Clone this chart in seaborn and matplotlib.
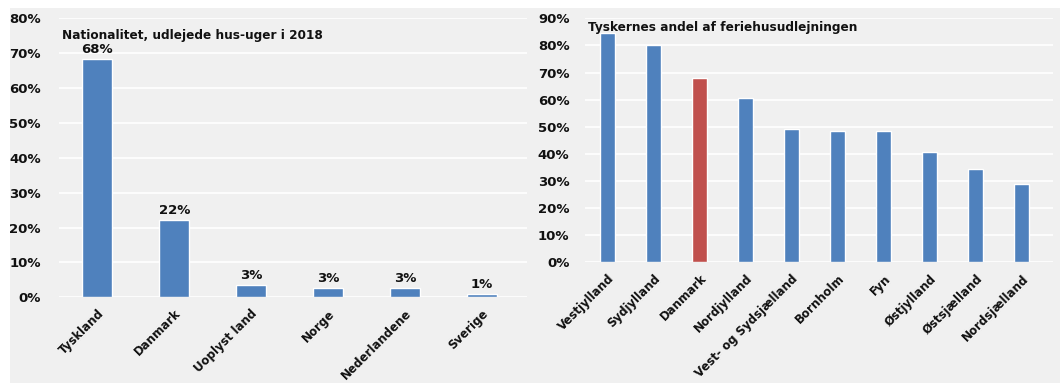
import matplotlib
matplotlib.use("Agg")
import matplotlib.pyplot as plt
import seaborn as sns
import pandas as pd
from matplotlib.patches import Rectangle
from matplotlib.ticker import PercentFormatter

# venstre figur
nationer = ["Tyskland", "Danmark", "Uoplyst land", "Norge", "Nederlandene", "Sverige"]
andel_nation = [68.2, 22.1, 3.4, 2.7, 2.6, 1.0]
labels_nation = ["68%", "22%", "3%", "3%", "3%", "1%"]

# højre figur
omraader = ["Vestjylland", "Sydjylland", "Danmark", "Nordjylland", "Vest- og Sydsjælland",
            "Bornholm", "Fyn", "Østjylland", "Østsjælland", "Nordsjælland"]
andel_tysk = [84.5, 80.0, 67.9, 60.5, 49.0, 48.5, 48.3, 40.7, 34.5, 28.8]

blaa = "#4F81BD"
roed = "#C0504D"
bg = "#F0F0F0"
tekst = "#111111"

sns.set_theme(style="white")
plt.rcParams["font.family"] = ["DejaVu Sans"]
plt.rcParams["font.weight"] = "bold"

W, H = 1062, 383
fig = plt.figure(figsize=(W / 100, H / 100), dpi=100)
fig.patches.append(Rectangle((10 / W, 0), 1050 / W, (H - 8) / H, transform=fig.transFigure,
                             facecolor=bg, edgecolor="none", zorder=-10))

ax1 = fig.add_axes([58.9 / W, (H - 297.3) / H, (527 - 58.9) / W, (297.3 - 18.3) / H])
ax2 = fig.add_axes([584.7 / W, (H - 262.3) / H, (1053 - 584.7) / W, (262.3 - 18.3) / H])

df1 = pd.DataFrame({"land": nationer, "andel": andel_nation})
sns.barplot(data=df1, x="land", y="andel", color=blaa, width=0.39, saturation=1, ax=ax1, zorder=3)
for i, (v, lab) in enumerate(zip(andel_nation, labels_nation)):
    ax1.text(i, v + 0.9, lab, ha="center", va="bottom", fontsize=9.5, fontweight="bold", color=tekst)
ax1.set_ylim(0, 80)
ax1.set_xlim(-0.5, 5.59)
ax1.set_yticks(range(0, 81, 10))
ax1.text(0.007, 0.96, "Nationalitet, udlejede hus-uger i 2018", transform=ax1.transAxes,
         ha="left", va="top", fontsize=8.7, fontweight="bold", color=tekst)

df2 = pd.DataFrame({"omraade": omraader, "andel": andel_tysk})
farver = [roed if o == "Danmark" else blaa for o in omraader]
sns.barplot(data=df2, x="omraade", y="andel", hue="omraade", palette=farver, legend=False,
            width=0.32, saturation=1, ax=ax2, zorder=3)
ax2.set_ylim(0, 90)
ax2.set_xlim(-0.5, 9.68)
ax2.set_yticks(range(0, 91, 10))
ax2.text(0.007, 0.99, "Tyskernes andel af feriehusudlejningen", transform=ax2.transAxes,
         ha="left", va="top", fontsize=8.7, fontweight="bold", color=tekst)

for ax, pad in [(ax1, 13), (ax2, 11)]:
    ax.set_facecolor(bg)
    ax.patch.set_alpha(0)
    ax.yaxis.set_major_formatter(PercentFormatter(decimals=0))
    ax.grid(axis="y", color="white", linewidth=1.2, zorder=0)
    ax.set_axisbelow(True)
    for s in ax.spines.values():
        s.set_visible(False)
    ax.set_xlabel("")
    ax.set_ylabel("")
    ax.tick_params(axis="y", length=0, pad=pad, labelsize=9.5, labelcolor=tekst)
    ax.tick_params(axis="x", length=0, pad=7, labelsize=8.5, labelcolor=tekst)
    for t in ax.get_xticklabels():
        t.set_rotation(45)
        t.set_ha("right")
        t.set_rotation_mode("anchor")
        t.set_fontweight("bold")
    for t in ax.get_yticklabels():
        t.set_fontweight("bold")

fig.savefig("out.png", dpi=100)
